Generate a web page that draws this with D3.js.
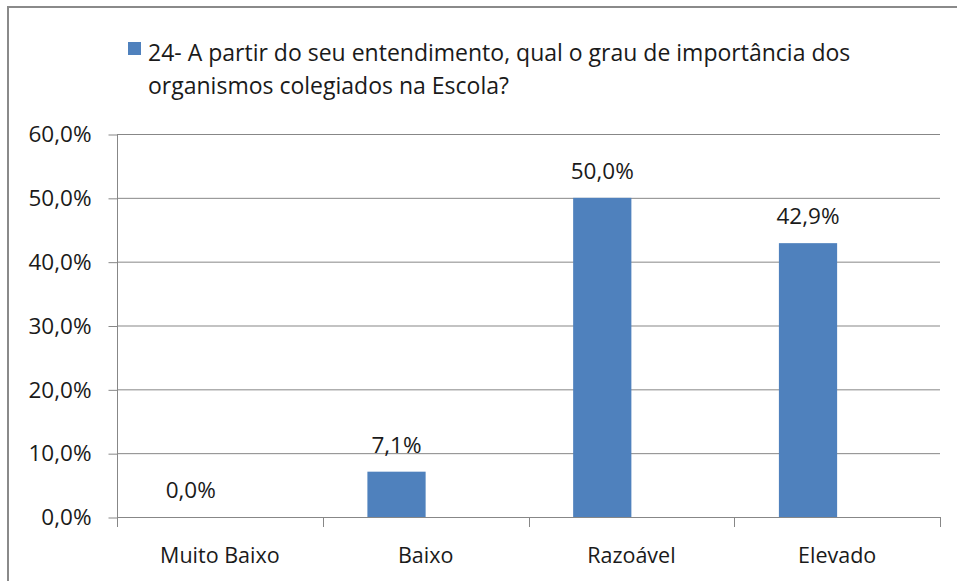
<!DOCTYPE html>
<html>
<head>
<meta charset="utf-8">
<script src="https://cdn.jsdelivr.net/npm/d3@7"></script>
<style>
  body { margin: 0; background: #fff; }
  text { font-family: "Open Sans", sans-serif; fill: #1a1a1a; }
</style>
</head>
<body>
<svg id="chart"></svg>
<script>
// data
const categories = ["Muito Baixo", "Baixo", "Razoável", "Elevado"]
const values = [0.0, 0.071, 0.50, 0.429]
const yTicks = [0, 0.1, 0.2, 0.3, 0.4, 0.5, 0.6]
const legendLines = ["24- A partir do seu entendimento, qual o grau de importância dos",
    "organismos colegiados na Escola?"]

const W = 957, H = 581
const barColor = "#4f81bd"
const gridColor = "#878787"

const svg = d3.select("#chart")
    .attr("width", W)
    .attr("height", H)

// border of the chart area (right and bottom fall off the picture)
svg.append("rect")
    .attr("x", 8)
    .attr("y", 7)
    .attr("width", W + 20)
    .attr("height", H + 20)
    .attr("fill", "#fff")
    .attr("stroke", "#8a8a8a")
    .attr("stroke-width", 2)

const pt = d3.formatLocale({ decimal: ",", thousands: ".", grouping: [3], currency: ["R$", ""] })
const pct = pt.format(".1%")

const x = d3.scaleBand()
    .domain(categories)
    .range([117, 940])

const y = d3.scaleLinear()
    .domain([0, 0.6])
    .range([517, 134])

// gridlines
svg.append("g")
    .selectAll("line")
    .data(yTicks.filter(d => d > 0))
    .join("line")
    .attr("x1", 117)
    .attr("x2", 940)
    .attr("y1", d => y(d) + 0.5)
    .attr("y2", d => y(d) + 0.5)
    .attr("stroke", gridColor)
    .attr("stroke-width", 1)

// y axis
const yAxis = svg.append("g")
    .attr("transform", "translate(117.5,0.5)")
    .call(d3.axisLeft(y).tickValues(yTicks).tickSize(9).tickPadding(17).tickFormat(pct))
yAxis.selectAll("path, line").attr("stroke", gridColor)
yAxis.select(".domain").attr("d", "M0," + y(0.6) + "V" + (y(0) + 1))
yAxis.selectAll("text")
    .attr("font-family", "Open Sans")
    .attr("font-size", 22.5)
    .attr("fill", "#1a1a1a")

// x axis: labels at centres, ticks at category boundaries
const xAxis = svg.append("g")
    .attr("transform", "translate(0," + (y(0) + 0.5) + ")")
    .call(d3.axisBottom(x).tickSize(0).tickPadding(30))
xAxis.select(".domain").attr("stroke", gridColor).attr("d", "M117,0H940")
xAxis.selectAll("text")
    .attr("font-family", "Open Sans")
    .attr("font-size", 21.5)
    .attr("fill", "#1a1a1a")

svg.append("g")
    .selectAll("line")
    .data(categories.map(c => x(c)).concat([x.range()[1]]))
    .join("line")
    .attr("x1", d => Math.round(d) + 0.5)
    .attr("x2", d => Math.round(d) + 0.5)
    .attr("y1", y(0))
    .attr("y2", y(0) + 10)
    .attr("stroke", gridColor)

// bars sit left of each category centre (Excel clustered layout)
const barW = x.bandwidth() * 0.283
const barX = c => x(c) + x.bandwidth() / 2 - barW

svg.append("g")
    .selectAll("rect")
    .data(values)
    .join("rect")
    .attr("x", (d, i) => barX(categories[i]))
    .attr("y", d => y(d))
    .attr("width", barW)
    .attr("height", d => y(0) - y(d))
    .attr("fill", barColor)

svg.append("g")
    .selectAll("text")
    .data(values)
    .join("text")
    .attr("x", (d, i) => barX(categories[i]) + barW / 2)
    .attr("y", d => y(d) - 19)
    .attr("text-anchor", "middle")
    .attr("font-size", 22.5)
    .text(d => pct(d))

// legend
svg.append("rect")
    .attr("x", 128)
    .attr("y", 42)
    .attr("width", 13)
    .attr("height", 13)
    .attr("fill", barColor)

svg.append("text")
    .attr("font-size", 23)
    .selectAll("tspan")
    .data(legendLines)
    .join("tspan")
    .attr("x", 148)
    .attr("y", (d, i) => 61 + i * 33)
    .text(d => d)
</script>
</body>
</html>
